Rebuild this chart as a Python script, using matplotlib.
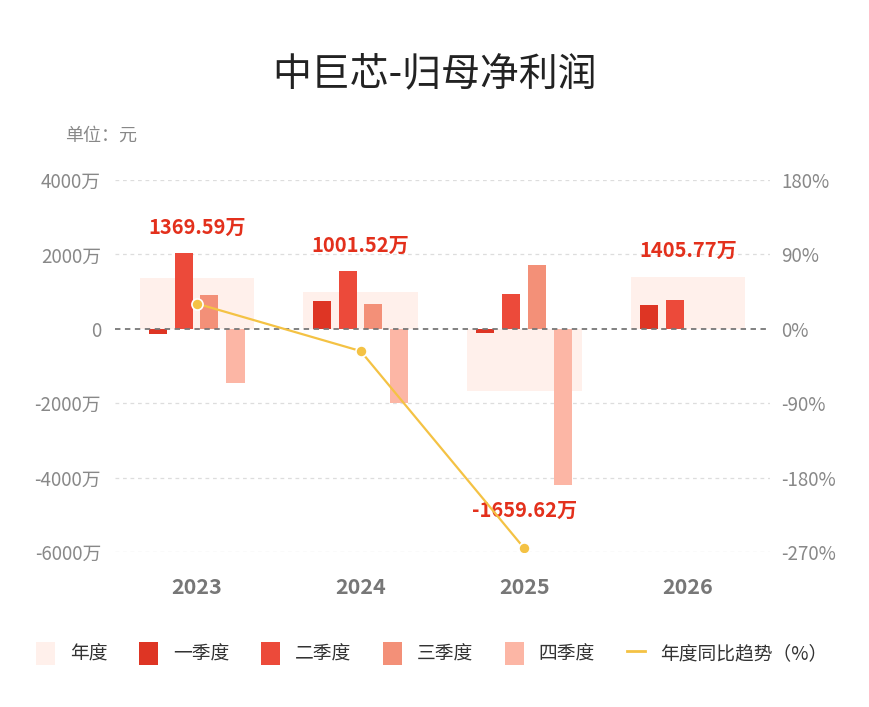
import numpy as np
import matplotlib
matplotlib.use('Agg')
from matplotlib import pyplot as plt
from matplotlib.patches import Patch
from matplotlib.lines import Line2D

plt.rcParams['font.family'] = ['Noto Sans CJK SC', 'DejaVu Sans']
plt.rcParams['axes.unicode_minus'] = False

# data (万元)
years = ['2023', '2024', '2025', '2026']
annual = [1369.59, 1001.52, -1659.62, 1405.77]
q1 = [-130, 760, -120, 637]
q2 = [2030, 1550, 940, 769]
q3 = [920, 680, 1720, np.nan]
q4 = [-1450, -1990, -4200, np.nan]
yoy = [30.5, -26.9, -265.7, np.nan]

left_ticks = [-6000, -4000, -2000, 0, 2000, 4000]
right_ticks = [-270, -180, -90, 0, 90, 180]

c_year = '#fff0eb'
c_q = ['#de3524', '#ec4a3a', '#f39078', '#fcb6a5']
c_line = '#f4c244'
c_label = '#e3301c'

fig = plt.figure(figsize=(8.69, 7.07), dpi=100)
ax = fig.add_axes([0.1323, 0.2192, 0.7538, 0.5262])
ax2 = ax.twinx()

x = np.arange(len(years))
ax.bar(x, annual, width=0.70, color=c_year, zorder=1)

offsets = [-0.238, -0.079, 0.077, 0.236]
for qi, vals in enumerate([q1, q2, q3, q4]):
    ax.bar(x + offsets[qi], vals, width=0.11, color=c_q[qi], zorder=2)

# grid
for t in left_ticks:
    if t == 0:
        continue
    ax.axhline(t, color='#dddddd', lw=0.9, ls=(0, (3, 3)), zorder=0)
ax.axhline(0, color='#777777', lw=1.3, ls=(0, (3, 2.5)), zorder=3)

ax.set_xlim(-0.5, 3.5)
ax.set_ylim(-6000, 4000)
ax.set_yticks(left_ticks)
ax.set_yticklabels([f'{t}万' if t != 0 else '0' for t in left_ticks],
                   fontsize=13.5, color='#888888')
ax.set_xticks(x)
ax.set_xticklabels(years, fontsize=15.5, color='#777777', fontweight='bold')
ax.tick_params(axis='both', length=0)
ax.tick_params(axis='y', pad=10)
ax.tick_params(axis='x', pad=18)

ax2.set_ylim(-270, 180)
ax2.set_yticks(right_ticks)
ax2.set_yticklabels([f'{t}%' for t in right_ticks], fontsize=13.5, color='#888888')
ax2.tick_params(axis='y', length=0, pad=8)

for a in (ax, ax2):
    for s in a.spines.values():
        s.set_visible(False)

ax2.plot(x, yoy, color=c_line, lw=1.6, marker='o', markersize=8,
         markerfacecolor=c_line, markeredgecolor='white', markeredgewidth=1.2, zorder=5)

# annual value labels
for i in range(len(years)):
    vals = [v for v in (annual[i], q1[i], q2[i], q3[i], q4[i]) if not np.isnan(v)]
    if annual[i] >= 0:
        y = max(vals)
        off, va = 11, 'bottom'
    else:
        y = min(vals)
        off, va = -11, 'top'
    ax.annotate(f'{annual[i]:.2f}万', (x[i], y), xytext=(0, off), textcoords='offset points',
                ha='center', va=va, color=c_label, fontsize=14.5, fontweight='bold', zorder=6)

fig.text(0.5, 0.895, '中巨芯-归母净利润', ha='center', va='center', fontsize=28,
         color='#222222')
fig.text(0.075, 0.808, '单位：元', ha='left', va='center', fontsize=13, color='#888888')

handles = [Patch(facecolor=c_year, label='年度')]
names = ['一季度', '二季度', '三季度', '四季度']
for c, n in zip(c_q, names):
    handles.append(Patch(facecolor=c, label=n))
handles.append(Line2D([0], [0], color=c_line, lw=2, label='年度同比趋势（%）'))
fig.legend(handles=handles, loc='center', bbox_to_anchor=(0.497, 0.076), ncol=6,
           frameon=False, fontsize=13.5, handlelength=1.0, handleheight=1.5,
           handletextpad=0.8, columnspacing=1.7, labelcolor='#333333')

fig.savefig('out.png', dpi=100)
